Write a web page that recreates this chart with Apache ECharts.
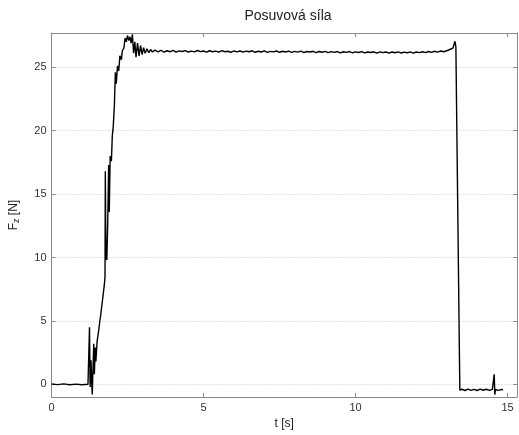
<!DOCTYPE html>
<html>
<head>
<meta charset="utf-8">
<script src="https://cdn.jsdelivr.net/npm/echarts@6/dist/echarts.min.js"></script>
<style>html,body{margin:0;padding:0;background:#fff}#c{width:519px;height:435px}</style>
</head>
<body>
<div id="c"></div>
<script>
var titleText = 'Posuvová síla';
var xName = 't [s]';
var yName = 'F_z [N]';
var xTicks = [0, 5, 10, 15];
var yTicks = [0, 5, 10, 15, 20, 25];

// idle phase
var timeIdle  = [0, 0.2, 0.4, 0.6, 0.8, 1.0, 1.2, 1.24];
var forceIdle = [0.03, -0.02, 0.04, -0.03, 0.02, -0.03, 0.01, 0.0];

// rise + overshoot
var timeRise  = [1.25,1.27,1.3,1.32,1.34,1.36,1.39,1.41,1.44,1.46,1.5,1.55,1.59,1.62,1.66,1.7,1.74,1.76,1.77,1.79,1.82,1.85,1.88,1.9,1.93,1.97,2.0,2.03,2.07,2.1,2.13,2.17,2.21,2.25,2.3,2.33,2.38,2.42,2.46,2.5,2.54,2.58,2.62,2.66,2.7,2.74,2.78,2.83,2.88,2.93,2.98,3.03,3.08,3.14,3.2,3.26,3.32,3.4];
var forceRise = [4.5,-0.2,1.9,0.2,-0.8,0.9,3.2,0.8,2.9,1.8,3.4,4.2,5.0,5.5,6.3,7.1,7.9,8.5,16.8,10.0,9.8,12.8,17.3,13.6,18.0,17.6,19.6,20.3,22.1,24.6,23.7,25.1,24.7,25.9,25.6,26.3,26.5,27.3,27.0,27.5,27.1,27.4,26.9,27.6,26.1,27.0,25.8,26.9,25.9,26.7,26.0,26.55,26.1,26.45,26.15,26.4,26.2,26.35];

// steady plateau
var timePlateau  = [3.5,3.6,3.7,3.8,3.9,4.0,4.1,4.2,4.3,4.4,4.5,4.6,4.7,4.8,4.9,5.0,5.1,5.2,5.3,5.4,5.5,5.6,5.7,5.8,5.9,6.0,6.1,6.2,6.3,6.4,6.5,6.6,6.7,6.8,6.9,7.0,7.1,7.2,7.3,7.4,7.5,7.6,7.7,7.8,7.9,8.0,8.1,8.2,8.3,8.4,8.5,8.6,8.7,8.8,8.9,9.0,9.1,9.2,9.3,9.4,9.5,9.6,9.7,9.8,9.9,10.0,10.1,10.2,10.3,10.4,10.5,10.6,10.7,10.8,10.9,11.0,11.1,11.2,11.3,11.4,11.5,11.6,11.7,11.8,11.9,12.0,12.1,12.2,12.3,12.4,12.5,12.6,12.7,12.8,12.9];
var forcePlateau = [26.22,26.34,26.2,26.3,26.22,26.33,26.19,26.29,26.24,26.31,26.2,26.27,26.21,26.32,26.23,26.28,26.19,26.3,26.22,26.27,26.2,26.31,26.22,26.26,26.18,26.29,26.21,26.28,26.19,26.27,26.22,26.3,26.18,26.26,26.2,26.29,26.17,26.25,26.21,26.28,26.18,26.26,26.2,26.27,26.17,26.25,26.19,26.27,26.16,26.24,26.2,26.26,26.15,26.24,26.18,26.25,26.15,26.23,26.17,26.24,26.14,26.22,26.17,26.24,26.14,26.21,26.16,26.23,26.13,26.2,26.16,26.22,26.12,26.21,26.15,26.2,26.12,26.2,26.14,26.21,26.12,26.19,26.14,26.21,26.12,26.2,26.15,26.22,26.15,26.24,26.17,26.26,26.19,26.28,26.22];

// end spike and release
var timeEnd  = [13.0,13.05,13.1,13.15,13.2,13.24,13.27,13.3,13.43,13.5,13.6,13.7,13.8,13.9,14.0,14.1,14.2,14.3,14.4,14.5,14.55,14.56,14.58,14.6,14.7,14.8,14.85];
var forceEnd = [26.3,26.22,26.4,26.3,26.5,26.42,27.05,26.6,-0.45,-0.38,-0.48,-0.37,-0.47,-0.39,-0.48,-0.37,-0.46,-0.38,-0.47,-0.39,-0.44,0.8,-0.8,-0.4,-0.47,-0.39,-0.44];

var timeAll = timeIdle.concat(timeRise, timePlateau, timeEnd);
var forceAll = forceIdle.concat(forceRise, forcePlateau, forceEnd);
var data = timeAll.map(function (t, i) { return [t, forceAll[i]]; });

var FONT = 'Liberation Sans';
var axisColor = '#8a8a8a';
function fmt(list) { return function (v) { return list.indexOf(Math.round(v * 1000) / 1000) >= 0 ? String(v) : ''; }; }
var edgeAxis = {
  axisLine: { show: true, onZero: false, lineStyle: { color: axisColor, width: 1 } },
  axisTick: { show: true, inside: true, length: 4, lineStyle: { color: axisColor } }
};

var chart = echarts.init(document.getElementById('c'));
chart.setOption({
  animation: false,
  backgroundColor: '#fff',
  title: {
    text: titleText, left: 283, top: 4, textAlign: 'center',
    textStyle: { fontFamily: FONT, fontSize: 14, fontWeight: 'normal', color: '#222' }
  },
  grid: { left: 49, right: 2, top: 33, bottom: 32, containLabel: false },
  xAxis: [Object.assign({
    type: 'value', min: 0, max: 15.31, interval: 5, position: 'bottom',
    name: xName, nameLocation: 'middle', nameGap: 17,
    nameTextStyle: { fontFamily: FONT, fontSize: 12, color: '#222', verticalAlign: 'top' },
    axisLabel: { fontFamily: FONT, fontSize: 11, color: '#333', margin: 5, formatter: fmt(xTicks), showMaxLabel: false },
    splitLine: { show: false }
  }, edgeAxis), Object.assign({
    type: 'value', min: 0, max: 15.31, interval: 5, position: 'top',
    axisLabel: { show: false }, splitLine: { show: false }
  }, edgeAxis)],
  yAxis: [Object.assign({
    type: 'value', min: -1, max: 27.7, splitNumber: 6, position: 'left',
    name: '{a|F}{s|z}{a| [N]}', nameLocation: 'middle', nameGap: 30, nameRotate: 90,
    nameTextStyle: {
      rich: {
        a: { fontFamily: FONT, fontSize: 12, color: '#222' },
        s: { fontFamily: FONT, fontSize: 9, color: '#222', verticalAlign: 'bottom', padding: [6, 0, 0, 0] }
      }
    },
    axisLabel: { fontFamily: FONT, fontSize: 11, color: '#333', margin: 5, formatter: fmt(yTicks), showMinLabel: false, showMaxLabel: false },
    splitLine: { show: true, lineStyle: { color: '#c8c8c8', type: [1, 2], width: 1 } }
  }, edgeAxis), Object.assign({
    type: 'value', min: -1, max: 27.7, splitNumber: 6, position: 'right',
    axisLabel: { show: false }, splitLine: { show: false }
  }, edgeAxis)],
  series: [{
    type: 'line', data: data, xAxisIndex: 0, yAxisIndex: 0,
    showSymbol: false, symbol: 'none', smooth: false,
    lineStyle: { color: '#000', width: 1.4 }
  }]
});
</script>
</body>
</html>
